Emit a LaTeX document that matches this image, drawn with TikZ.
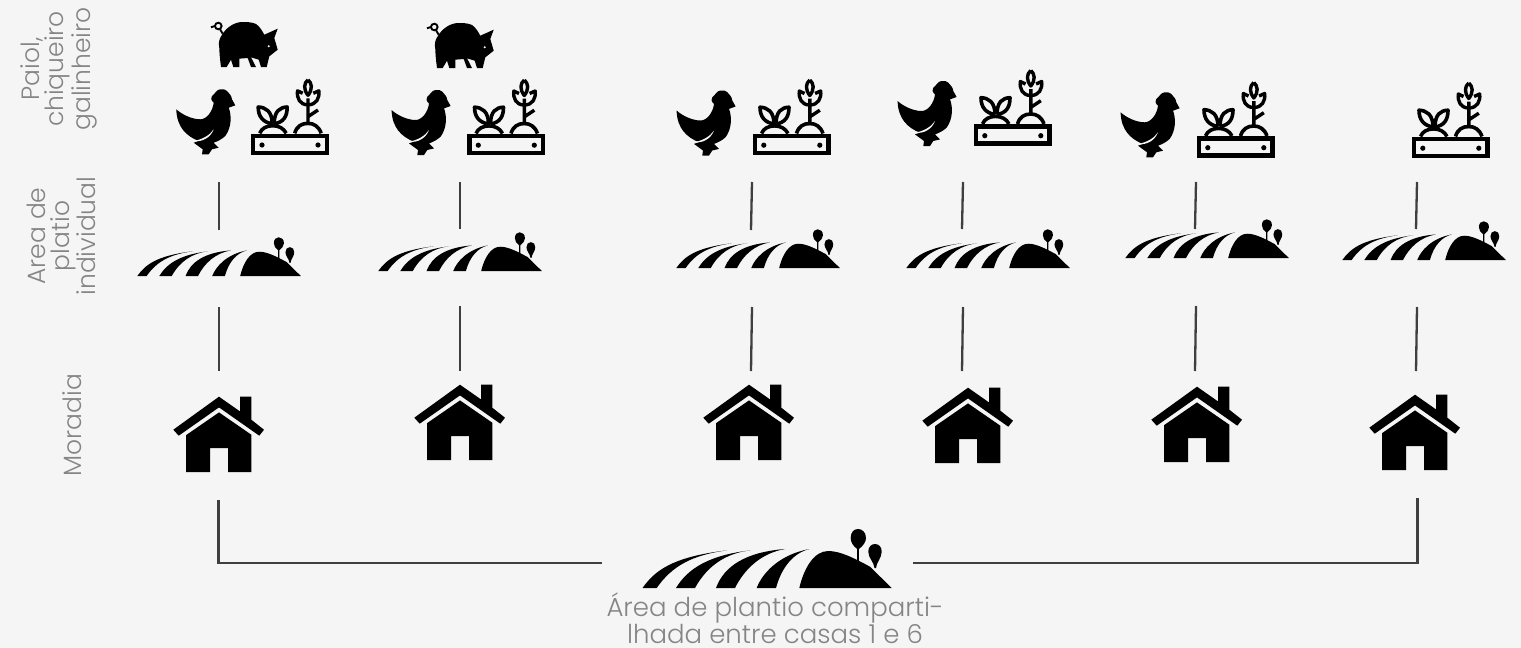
\documentclass[tikz,border=0pt]{standalone}
\usepackage{fontspec}
\setmainfont{Poppins}[UprightFont=* Light]
\definecolor{fundo}{HTML}{F5F5F5}
\definecolor{rotulo}{HTML}{858585}
\definecolor{linha}{HTML}{3F3F3F}
\tikzset{
    rotulotxt/.style={text=rotulo, font=\fontsize{25}{24}\selectfont, align=center, inner sep=0pt},
    conector/.style={draw=linha, line width=2.3pt},
    pics/casa/.style={code={
        \fill (0,0) -- (21,14.7) -- (21,0) -- (32.3,0) -- (32.3,23) -- (45,33) -- (40.3,39)
            -- (0,10.7) -- (-40.3,39) -- (-45.7,33) -- cycle;
        \fill (0,15.7) -- (32.3,38) -- (32.3,75.5) -- (9,75.5) -- (9,51.3) -- (-9,51.3)
            -- (-9,75.5) -- (-33,75.5) -- (-33,38.5) -- cycle;
    }},
    pics/campo/.style={code={
        \fill (0.5,0) .. controls (12,-16) and (28,-31) .. (85.3,-37.7) .. controls (50,-33) and (30,-22) .. (14.7,0) -- cycle;
        \fill (34,0) .. controls (46,-20) and (68,-33) .. (108.7,-37.7) .. controls (84,-35) and (65,-22) .. (53,0) -- cycle;
        \fill (74,0) .. controls (82,-22) and (104,-36) .. (143,-39) .. controls (120,-35) and (103,-20) .. (93,0) -- cycle;
        \fill (114.7,0) .. controls (120,-14) and (136,-33) .. (167.3,-39) .. controls (152,-35) and (140,-22) .. (134,0) -- cycle;
        \fill (157.3,0) .. controls (162,-20) and (172,-37) .. (186.3,-37) .. controls (198,-37) and (212,-30) .. (228,-21.3) -- (249.7,0) -- cycle;
        % arvores
        \fill (215.2,-26) -- (215.2,-39) .. controls (211,-42) and (208.7,-46) .. (208.7,-50)
            .. controls (208.7,-56) and (212,-59) .. (216,-59) .. controls (220,-59) and (224,-56) .. (224,-50)
            .. controls (224,-46) and (221,-42) .. (216.9,-39) -- (216.9,-26) -- cycle;
        \fill (232.5,-20) .. controls (232,-26) and (226.3,-30) .. (226.3,-36.3)
            .. controls (226.3,-41) and (229,-44) .. (233,-44) .. controls (237,-44) and (239.7,-41) .. (239.7,-36.3)
            .. controls (239.7,-30) and (234.5,-26) .. (234,-20) -- cycle;
    }},
    pics/galinha/.style={code={
        \fill (-0.4,20) .. controls (5,25) and (15,30) .. (23.6,30) .. controls (30,30) and (36,22) .. (37,13.4)
            .. controls (34,11) and (34,8) .. (35.3,6.7) .. controls (38,5) and (40,0) .. (43.6,0)
            .. controls (47,0) and (49,0) .. (50.3,1.7) .. controls (52,4) and (55,6) .. (55.3,10)
            -- (58.6,16) -- (52,18.4) .. controls (55,26) and (55,38) .. (48.6,46.7)
            .. controls (45,50) and (41,52) .. (37,53.4) -- (42,58.4) -- (35.3,60) -- (32,65) -- (25.3,65)
            -- (26,60) -- (17,53.4) -- (22,51.7) .. controls (10,47) and (0,38) .. (-0.4,20) -- cycle;
        \fill[fundo] (17,51.7) .. controls (26,50) and (33,46) .. (37,40) .. controls (34,48) and (26,53) .. (17,51.7) -- cycle;
    }},
    pics/porco/.style={code={
        \fill (12,13) .. controls (17,5) and (25,0.3) .. (32.7,0.3) .. controls (38,0.3) and (42,0.5) .. (46,2.3)
            .. controls (50,5) and (52,9) .. (54.3,13) -- (67.7,7) -- (64.3,16.3) -- (67.7,28) -- (59.3,34.6)
            -- (56.7,45.3) -- (51,45.3) -- (48.7,38) -- (41,35.6) -- (46,45.3) -- (41,45.3) -- (37.7,36.3)
            -- (29.3,37) -- (29.3,45.3) -- (23.3,45.3) -- (21,38) -- (16.7,45.3) -- (11,45.3)
            .. controls (10,38) and (9.3,30) .. (9.3,26.3) .. controls (8.5,22) and (8.5,18) .. (12,13) -- cycle;
        \fill[fundo] (58.7,24.6) circle (1.1pt);
        \draw[line width=1.9pt] (8.3,4.3) circle (3.3pt);
        \draw[line width=1.9pt] (1,5.6) -- (5,4.3) (10,7.5) -- (12.7,12);
    }},
    pics/canteiro/.style={code={
        \draw[line width=4.4pt] (2.3,57.4) rectangle (76,74.4);
        \fill (11.3,66.7) circle (2.6pt) (67.3,66.7) circle (2.6pt);
        \draw[line width=3.6pt] (9,55) .. controls (11,50) and (16,47.4) .. (22,47.4)
            .. controls (28,47.4) and (33,50) .. (35.5,55);
        \draw[line width=3.6pt] (44,55) .. controls (46,48) and (51,45) .. (57.3,45)
            .. controls (63,45) and (68,48) .. (70.5,55);
        \draw[line width=3.6pt, line join=round] (21.5,45.5) .. controls (12,44) and (7.5,38) .. (7.5,28.7)
            .. controls (15,29) and (21.5,33) .. (21.5,45.5);
        \draw[line width=3.6pt, line join=round] (23.5,45.5) .. controls (33,44) and (36.5,38) .. (36.5,28.7)
            .. controls (29,29) and (23.5,33) .. (23.5,45.5);
        \draw[line width=3.4pt] (57.3,46.7) -- (57.3,20) (57.3,38.4) -- (67.3,31.7);
        \draw[line width=3.4pt, line join=round] (57.3,1.5) .. controls (61.5,5) and (62,11) .. (57.3,17)
            .. controls (52.6,11) and (53,5) .. (57.3,1.5);
        \draw[line width=3.4pt, line join=round] (57.3,26.5) .. controls (49,26.5) and (46,20) .. (46.8,12.5)
            -- (52,15);
        \draw[line width=3.4pt, line join=round] (57.3,26.5) .. controls (65.6,26.5) and (69,20) .. (68.2,12.5)
            -- (62.6,15);
    }},
}
\begin{document}
\begin{tikzpicture}[x=1pt,y=-1pt]
    \fill[fundo] (0,0) rectangle (1521,648);
    \useasboundingbox (0,0) rectangle (1521,648);

    % Rotulos das linhas
    \node[rotulotxt, rotate=90] (lbpaiol) at (59,69) {Paiol,\\chiqueiro\\galinheiro};
    \node[rotulotxt, rotate=90] (lbarea) at (61,236) {Area de\\platio\\individual};
    \node[rotulotxt, rotate=90] (lbmoradia) at (72,425) {Moradia};

    % Porcos
    \foreach \px/\py in {210/21.7, 426/22.7}
        \pic at (\px,\py) {porco};

    % Galinhas
    \foreach \px/\py in {176.7/89.3, 392/90, 677/90.5, 898/81, 1121/92.3}
        \pic at (\px,\py) {galinha};

    % Canteiros
    \foreach \px/\py in {250.7/78.3, 467/78.5, 752.5/78.5, 973.5/69, 1196.5/81, 1411.5/81.5}
        \pic at (\px,\py) {canteiro};

    % Areas individuais
    \foreach \px/\py in {137/276, 378/271, 676/268, 906/268, 1125/258, 1342/260}
        \pic[scale=0.656] at (\px,\py) {campo};

    % Casas
    \foreach \px/\py in {219/396.7, 460/384.7, 749/384.7, 968/387.7, 1197/386.7, 1415/394.7}
        \pic at (\px,\py) {casa};

    % Area compartilhada
    \pic at (642,588) {campo};
    \node[rotulotxt, font=\fontsize{26}{24.5}\selectfont] (lbcompart) at (775,618) {Área de plantio comparti-\\lhada entre casas 1 e 6};

    % Conectores verticais
    \foreach \n/\xa/\xb/\xc/\xd/\ya/\yb in {1/219/219/219/219/230/307, 2/460/460/460/460/229/306,
            3/752/751/752/751/230/307, 4/963/962/963/962/229/307,
            5/1196/1195/1196/1195/229/306, 6/1417/1416/1417/1416/229/307} {
        \coordinate (sup\n) at (\xa,182);
        \coordinate (meio\n) at (\xb,\ya);
        \coordinate (med\n) at (\xc,\yb);
        \coordinate (inf\n) at (\xd,371);
        \draw[conector] (sup\n) -- (meio\n);
        \draw[conector] (med\n) -- (inf\n);
    }

    % Ligacao entre casas 1 e 6
    \coordinate (base1) at (218.5,500);
    \coordinate (base6) at (1417.5,498);
    \coordinate (fimesq) at (602,563);
    \coordinate (fimdir) at (913,563);
    \draw[conector] (base1) |- (fimesq);
    \draw[conector] (base6) |- (fimdir);
\end{tikzpicture}
\end{document}
